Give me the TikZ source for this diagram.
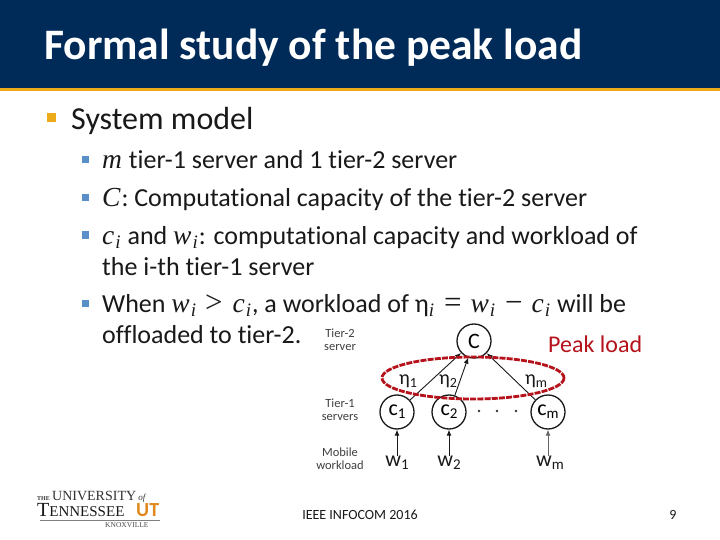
\documentclass[tikz,border=0pt]{standalone}
\usepackage{fontspec}
\setmainfont[Ligatures=NoCommon]{Carlito}
\newfontfamily\mathf[ItalicFont=* Italic]{Liberation Serif}
\newfontfamily\serf{Liberation Serif}
\newcommand{\mi}[1]{{\mathf\itshape\fontsize{27.5}{28}\selectfont #1\kern1pt}}
\newcommand{\mo}[1]{{\fontsize{31}{31}\selectfont\mathf #1}}
\newcommand{\subi}{\raisebox{-4.5pt}{\mathf\itshape\fontsize{19}{19}\selectfont i}\kern1pt}
\usetikzlibrary{arrows.meta}
\definecolor{hdr}{HTML}{002B58}
\definecolor{gold}{HTML}{EDAB1C}
\definecolor{blt}{HTML}{5B8FC9}
\definecolor{peak}{HTML}{B5121B}
\definecolor{utor}{HTML}{E08A1E}
\tikzset{
  txtline/.style={anchor=base west,inner sep=0,font=\fontsize{26}{26}\selectfont,text=black!90},
  bul/.style={fill=blt,minimum size=7pt,inner sep=0},
  srv/.style={circle,draw=black!90,line width=1.3pt,minimum size=34pt,inner sep=0,font=\fontsize{22}{22}\selectfont},
  tierlab/.style={align=center,font=\fontsize{12.5}{13}\selectfont,text=black!75,inner sep=0},
  lab/.style={inner sep=0,font=\fontsize{20}{20}\selectfont,text=black!90},
  arr/.style={-{Latex[length=6pt,width=5pt]},line width=.9pt,draw=black!90,shorten >=0pt},
}
\begin{document}
\begin{tikzpicture}[x=1pt,y=-1pt]
\useasboundingbox (0,0) rectangle (720,540);
\fill[white] (0,0) rectangle (720,540);
\fill[hdr] (0,0) rectangle (720,88);
\fill[gold] (0,88) rectangle (720,91);
\node[anchor=base west,inner sep=0,text=white,font=\bfseries\fontsize{43.5}{44}\selectfont] (title) at (44,60) {Formal study of the peak load};
\node[fill=gold,minimum size=9pt,inner sep=0] (b0) at (51,118) {};
\node[anchor=base west,inner sep=0,font=\fontsize{32}{32}\selectfont,text=black!90] (t0) at (71,130) {System model};
\node[bul] (b1) at (85,160) {};
\node[txtline] (t1) at (102,169) {\mi{m} tier-1 server and 1 tier-2 server};
\node[bul] (b2) at (85,198) {};
\node[txtline] (t2) at (102,207) {\mi{C}: Computational capacity of the tier-2 server};
\node[bul] (b3) at (85,235) {};
\node[txtline] (t3) at (102,244) {\mi{c}\subi{} and \mi{w}\subi: computational capacity and workload of};
\node[txtline] (t3b) at (102,275) {the i-th tier-1 server};
\node[bul] (b4) at (85,303) {};
\node[txtline] (t4) at (102,312) {When \mi{w}\subi{}\kern8pt\mo{>}\kern10pt\mi{c}\subi, a workload of η\subi{}\kern9pt\mo{=}\kern9pt\mi{w}\subi{}\kern9pt\mo{−}\kern9pt\mi{c}\subi{} will be};
\node[txtline] (t4b) at (102,343) {offloaded to tier-2.};
% network
\node[tierlab] (l2) at (340,340) {Tier-2\\server};
\node[tierlab] (l1) at (340,410) {Tier-1\\servers};
\node[tierlab] (l0) at (340,459) {Mobile\\workload};
\node[srv] (C) at (474,341) {C};
\node[srv] (c1) at (397,412) {c\raisebox{-3pt}{\fontsize{15}{15}\selectfont 1}};
\node[srv] (c2) at (449,412) {c\raisebox{-3pt}{\fontsize{15}{15}\selectfont 2}};
\node[srv] (cm) at (548,412) {c\raisebox{-3pt}{\fontsize{15}{15}\selectfont m}};
\node[lab,font=\fontsize{22}{22}\selectfont] (w1) at (397,463) {w\raisebox{-3pt}{\fontsize{15}{15}\selectfont 1}};
\node[lab,font=\fontsize{22}{22}\selectfont] (w2) at (449,463) {w\raisebox{-3pt}{\fontsize{15}{15}\selectfont 2}};
\node[lab,font=\fontsize{22}{22}\selectfont] (wm) at (550,463) {w\raisebox{-3pt}{\fontsize{15}{15}\selectfont m}};
\draw[arr] (w1) -- (c1);
\draw[arr] (w2) -- (c2);
\draw[arr,draw=black!60] (wm.north -| cm) -- (cm);
\draw[arr] (c1) -- (C);
\draw[arr] (c2) -- (C);
\draw[arr] (cm) -- (C);
\node[lab] (n1) at (408,381) {η\raisebox{-3pt}{\fontsize{14}{14}\selectfont 1}};
\node[lab] (n2) at (448,381) {η\raisebox{-3pt}{\fontsize{14}{14}\selectfont 2}};
\node[lab] (nm) at (536,381) {η\raisebox{-3pt}{\fontsize{14}{14}\selectfont m}};
\node[inner sep=0,circle,fill=black!80,minimum size=2.8pt] (d1) at (479,411) {};
\node[inner sep=0,circle,fill=black!80,minimum size=2.8pt] (d2) at (497,411) {};
\node[inner sep=0,circle,fill=black!80,minimum size=2.8pt] (d3) at (516,411) {};
\draw[peak,line width=2.8pt,dash pattern=on 6pt off 1.2pt] (473,378) ellipse [x radius=91,y radius=21];
\node[anchor=base west,inner sep=0,text=peak,font=\fontsize{24}{24}\selectfont] (pk) at (548,352) {Peak load};
% footer
\node[inner sep=0,font=\fontsize{14}{14}\selectfont,text=black!90] (foot) at (360,515) {IEEE INFOCOM 2016};
\node[inner sep=0,font=\fontsize{14}{14}\selectfont,text=black!90] (pg) at (673,515) {9};
% logo
\node[anchor=base west,inner sep=0,font=\serf\fontsize{14}{14}\selectfont,text=black!80] (lg1) at (37,500) {{\fontsize{6}{6}\selectfont\bfseries THE}\,UNIVERSITY{\fontsize{9}{9}\selectfont\itshape\ of}};
\node[anchor=base west,inner sep=0,font=\serf\fontsize{15}{17}\selectfont,text=black!90] (lg2) at (37,516) {{\fontsize{20}{20}\selectfont T}ENNESSEE};
\node[anchor=base west,inner sep=0,font=\bfseries\fontsize{20}{20}\selectfont,text=utor] (lg3) at (136,516) {UT};
\draw[black!50,line width=.5pt] (40,520) -- (160,520);
\node[anchor=base west,inner sep=0,font=\serf\fontsize{7.5}{8}\selectfont,text=black!70] (lg4) at (105,527) {KNOXVILLE};
\end{tikzpicture}
\end{document}
